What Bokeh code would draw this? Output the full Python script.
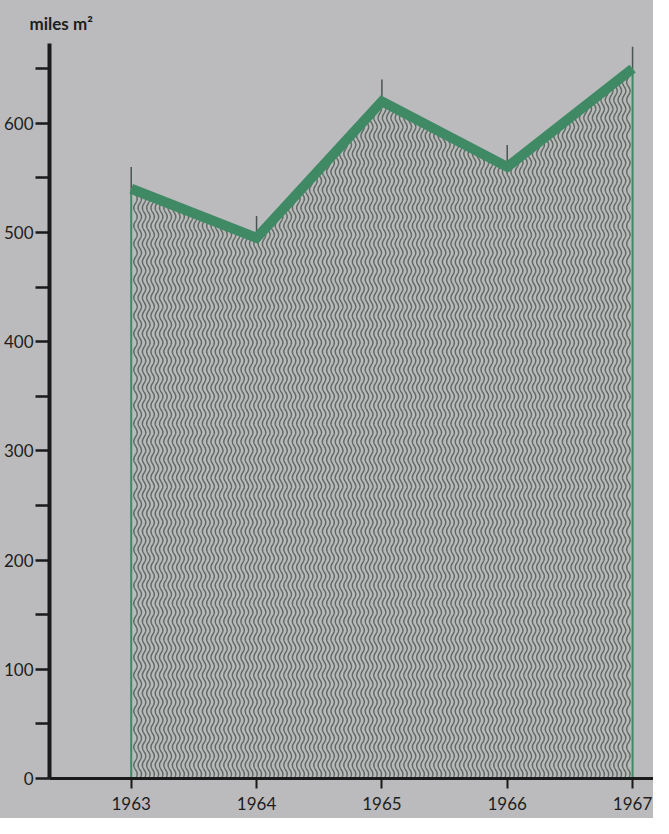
import numpy as np
from bokeh.plotting import figure
from bokeh.models import Range1d, FixedTicker, ColumnDataSource, Title
from bokeh.embed import file_html
from bokeh.resources import INLINE

years = [1963, 1964, 1965, 1966, 1967]
area_values = [540, 495, 620, 560, 650]
y_ticks = list(range(0, 700, 50))
y_tick_labels = {t: (str(t) if t % 100 == 0 else "") for t in y_ticks}
x_tick_labels = {y: str(y) for y in years}
unit_label = "miles m²"

BG = "#bbbbbd"
GREEN = "#3f8a65"
FONT = "Lato"

W, H = 653, 818
BL, BR, BT, BB = 47, 0, 42, 40
X0, X1 = 1962.348, 1967.167
Y0, Y1 = 0, 673

p = figure(width=W, height=H, output_backend="svg", toolbar_location=None,
           x_range=Range1d(X0, X1), y_range=Range1d(Y0, Y1),
           min_border_left=BL, min_border_right=BR, min_border_top=BT, min_border_bottom=BB)
p.background_fill_color = BG
p.border_fill_color = BG
p.styles = {"background-color": BG}
p.outline_line_color = None
p.grid.visible = False

# pixel scale helpers (decorative wave texture only)
px_per_x = (W - BL - BR) / (X1 - X0)
px_per_y = (H - BT - BB) / (Y1 - Y0)

stem_len = 20
src = ColumnDataSource(dict(x=years, top=area_values, zero=[0] * len(years),
                            stem=[v + stem_len for v in area_values]))

p.varea(x="x", y1="zero", y2="top", source=src, fill_color="#b9bbbb")

# wavy vertical line texture under the curve
spacing_px, amp_px, wave_px = 4.3, 1.7, 18.0
n_lines = int((years[-1] - years[0]) * px_per_x / spacing_px)
wx, wy = [], []
for k in range(1, n_lines + 1):
    xc = years[0] + k * spacing_px / px_per_x
    if xc >= years[-1]:
        break
    top = float(np.interp(xc, years, area_values))
    ys_px = np.arange(0, top * px_per_y, 0.5)
    wy.append((ys_px / px_per_y).tolist())
    wx.append((xc + amp_px * np.sin(2 * np.pi * ys_px / wave_px) / px_per_x).tolist())
p.multi_line(xs=wx, ys=wy, line_color="#59615c", line_width=1.5, line_alpha=0.9)

# short stems at each year above the band
p.segment(x0="x", y0="top", x1="x", y1="stem", source=src,
          line_color="#4a5550", line_width=1.5)
# edge lines
p.segment(x0=[years[0], years[-1]], y0=[0, 0], x1=[years[0], years[-1]],
          y1=[area_values[0], area_values[-1]], line_color=GREEN, line_width=2)

p.line(x="x", y="top", source=src, line_color=GREEN, line_width=10, line_join="miter")

# y axis
ya = p.yaxis[0]
ya.ticker = FixedTicker(ticks=y_ticks)
ya.major_label_overrides = y_tick_labels
ya.axis_line_width = 4
ya.axis_line_color = "#1a1a1a"
ya.major_tick_line_width = 2.5
ya.major_tick_line_color = "#1a1a1a"
ya.major_tick_out = 14
ya.major_tick_in = 0
ya.minor_tick_line_color = None
ya.major_label_text_font = FONT
ya.major_label_text_font_size = "17px"
ya.major_label_text_color = "#1e1e1e"
ya.major_label_standoff = 2

# x axis
xa = p.xaxis[0]
xa.ticker = FixedTicker(ticks=years)
xa.major_label_overrides = x_tick_labels
xa.axis_line_width = 3
xa.axis_line_color = "#1a1a1a"
xa.major_tick_line_width = 2
xa.major_tick_line_color = "#1a1a1a"
xa.major_tick_out = 10
xa.major_tick_in = 0
xa.minor_tick_line_color = None
xa.major_label_text_font = FONT
xa.major_label_text_font_size = "17px"
xa.major_label_text_color = "#1e1e1e"
xa.major_label_standoff = 8

p.title = Title(text=unit_label, align="left", offset=-20, text_font=FONT,
                text_font_size="17px", text_font_style="bold", text_color="#1e1e1e",
                standoff=20)

open("out.html", "w").write(file_html(p, INLINE))
